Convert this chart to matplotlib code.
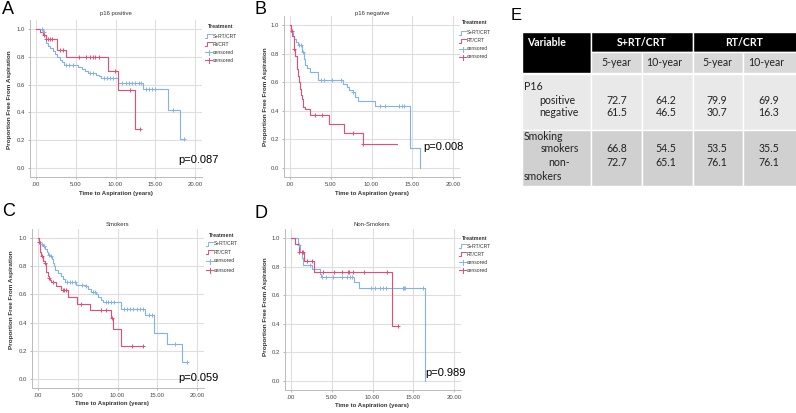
import numpy as np
import matplotlib
matplotlib.use("Agg")
import matplotlib.pyplot as plt
from matplotlib.patches import Rectangle
from matplotlib.lines import Line2D
from matplotlib.transforms import Bbox, TransformedBbox

plt.rcParams['font.family'] = ['Liberation Sans', 'DejaVu Sans']

# ---------------- data ----------------
# A: p16 positive
a_blue_t = [0, 0.9, 1.05, 1.2, 1.3, 1.5, 1.8, 2.1, 2.4, 2.7, 3.0, 3.3, 3.5, 5.3, 5.8, 6.2, 6.5, 7.6, 7.9, 8.2, 10.3, 13.5, 16.6, 18.1]
a_blue_s = [1.0, 0.98, 0.96, 0.93, 0.90, 0.88, 0.86, 0.84, 0.82, 0.80, 0.78, 0.76, 0.74, 0.73, 0.71, 0.70, 0.68, 0.67, 0.66, 0.645, 0.615, 0.565, 0.42, 0.21]
a_blue_end = 18.65
a_blue_cens = [0.7, 1.0, 3.8, 4.2, 4.6, 6.8, 7.2, 8.5, 8.9, 9.3, 9.7, 10.8, 11.3, 11.7, 12.1, 12.5, 12.9, 13.2, 13.8, 14.2, 14.6, 15.0, 17.2, 18.65]
a_red_t = [0, 0.5, 0.9, 1.25, 2.7, 3.8, 9.1, 10.3, 12.4]
a_red_s = [1.0, 0.98, 0.955, 0.93, 0.85, 0.80, 0.70, 0.56, 0.28]
a_red_end = 13.1
a_red_cens = [1.0, 1.3, 1.5, 1.7, 2.0, 3.0, 3.4, 5.4, 6.3, 6.8, 7.2, 7.4, 7.9, 9.9, 11.8, 13.1]

# B: p16 negative
b_blue_t = [0, 0.12, 0.33, 0.55, 0.75, 1.0, 1.45, 1.7, 1.9, 2.1, 2.5, 3.45, 6.5, 7.0, 7.3, 7.7, 8.0, 8.3, 10.4, 14.7, 16.0]
b_blue_s = [1.0, 0.95, 0.92, 0.90, 0.88, 0.86, 0.81, 0.76, 0.72, 0.70, 0.67, 0.615, 0.59, 0.565, 0.545, 0.53, 0.50, 0.467, 0.435, 0.143, 0.0]
b_blue_end = 16.0
b_blue_cens = [1.15, 1.3, 1.6, 3.8, 4.2, 5.2, 6.3, 7.7, 11.0, 11.7, 13.4, 13.7, 14.0]
b_red_t = [0, 0.12, 0.25, 0.45, 0.65, 0.83, 1.04, 1.15, 1.25, 1.33, 1.45, 1.58, 1.87, 2.5, 4.82, 6.65, 8.9]
b_red_s = [1.0, 0.96, 0.92, 0.83, 0.78, 0.69, 0.64, 0.60, 0.55, 0.51, 0.48, 0.43, 0.415, 0.37, 0.305, 0.245, 0.165]
b_red_end = 13.1
b_red_cens = [0.2, 0.5, 3.1, 3.95, 7.7, 9.0]

# C: smokers
c_blue_t = [0, 0.12, 0.3, 0.63, 0.92, 1.1, 1.26, 1.5, 1.7, 1.9, 2.0, 2.2, 2.5, 2.85, 3.15, 3.45, 4.8, 5.9, 6.3, 6.7, 7.35, 7.6, 7.9, 8.2, 10.4, 13.5, 14.6, 16.2, 18.15]
c_blue_s = [1.0, 0.98, 0.96, 0.94, 0.92, 0.90, 0.88, 0.87, 0.85, 0.82, 0.80, 0.77, 0.75, 0.73, 0.71, 0.69, 0.67, 0.66, 0.64, 0.62, 0.60, 0.58, 0.56, 0.545, 0.50, 0.455, 0.325, 0.245, 0.12]
c_blue_end = 18.7
c_blue_cens = [0.45, 0.8, 1.35, 1.6, 3.7, 4.0, 4.3, 4.6, 5.5, 6.0, 6.9, 7.2, 8.5, 8.8, 9.2, 9.6, 10.8, 11.2, 11.6, 12.0, 12.4, 12.8, 13.2, 13.9, 14.3, 17.2, 18.7]
c_red_t = [0, 0.1, 0.2, 0.3, 0.42, 0.6, 0.84, 0.95, 1.05, 1.2, 1.35, 1.45, 1.6, 2.3, 2.85, 3.8, 4.85, 6.6, 9.15, 9.45, 10.5]
c_red_s = [1.0, 0.97, 0.93, 0.90, 0.87, 0.84, 0.82, 0.79, 0.76, 0.73, 0.715, 0.70, 0.69, 0.66, 0.63, 0.58, 0.535, 0.488, 0.43, 0.354, 0.236]
c_red_end = 13.2
c_red_cens = [0.15, 0.5, 0.9, 1.4, 1.9, 3.1, 3.3, 3.5, 5.4, 7.9, 8.6, 9.3, 11.8, 13.2]

# D: non-smokers
d_blue_t = [0, 0.85, 1.05, 1.3, 1.45, 2.6, 3.5, 3.7, 7.7, 8.3, 16.4]
d_blue_s = [1.0, 0.95, 0.905, 0.86, 0.81, 0.78, 0.75, 0.728, 0.69, 0.653, 0.0]
d_blue_end = 16.4
d_blue_cens = [1.0, 2.3, 3.8, 4.3, 5.2, 6.2, 6.9, 7.2, 7.5, 9.8, 10.3, 10.9, 11.3, 11.6, 13.7, 13.9, 14.0, 16.2]
d_red_t = [0, 0.5, 1.0, 1.6, 2.8, 12.4]
d_red_s = [1.0, 0.955, 0.905, 0.84, 0.763, 0.384]
d_red_end = 13.1
d_red_cens = [1.0, 1.3, 1.5, 2.0, 2.6, 3.9, 5.3, 6.3, 7.0, 7.15, 7.6, 8.9, 11.75, 13.1]

titles = ['p16 positive', 'p16 negative', 'Smokers', 'Non-Smokers']
letters = ['A', 'B', 'C', 'D']
pvalues = ['p=0.087', 'p=0.008', 'p=0.059', 'p=0.989']
legend_a = ['S+RT/CRT', 'Rt/CRT', 'censored', 'censored']
legend_other = ['S+RT/CRT', 'RT/CRT', 'censored', 'censored']
xticks = [0, 5, 10, 15, 20]
xtick_labels = ['.00', '5.00', '10.00', '15.00', '20.00']
yticks = [0.0, 0.2, 0.4, 0.6, 0.8, 1.0]

# table E
tab_groups = ['S+RT/CRT', 'RT/CRT']
tab_sub = ['5-year', '10-year', '5-year', '10-year']
p16_pos = ['72.7', '64.2', '79.9', '69.9']
p16_neg = ['61.5', '46.5', '30.7', '16.3']
smk_yes = ['66.8', '54.5', '53.5', '35.5']
smk_no = ['72.7', '65.1', '76.1', '76.1']

# ---------------- figure ----------------
W, H = 796, 413
fig = plt.figure(figsize=(W / 100, H / 100), dpi=100)
XL = (-0.75, 20.9)
YL = (-0.065, 1.065)
BLUE = '#82b2ee'
RED = '#ec4a72'


def fx(x):
    return x / W


def fy(y):
    return 1 - y / H


def make_axes(x0, x20, y1, y0):
    sx = (x20 - x0) / 20.0
    sy = y0 - y1
    left = x0 + XL[0] * sx
    right = x0 + XL[1] * sx
    top = y0 - YL[1] * sy
    bottom = y0 - YL[0] * sy
    return fig.add_axes([fx(left), fy(bottom), (right - left) / W, (bottom - top) / H])


def km(ax, t, s, end, cens, color):
    tt = list(t) + [end]
    ss = list(s) + [s[-1]]
    ax.step(tt, ss, where='post', color=color, lw=0.8, zorder=3)
    idx = np.searchsorted(np.array(t), np.array(cens), side='right') - 1
    cy = np.array(s)[idx]
    ax.plot(cens, cy, ls='none', marker='+', ms=3.2, mew=0.7, color=color, zorder=4)


def legend(lx, ty, ys, labels, clip=None):
    texts = []
    texts.append(fig.text(fx(lx + 3), fy(ty), 'Treatment', fontsize=3.8, fontweight='bold',
                          color='#333333', va='center', ha='left'))
    cols = [BLUE, RED, BLUE, RED]
    for i, (yy, lab) in enumerate(zip(ys, labels)):
        c = cols[i]
        if i < 2:
            xs = [lx, lx + 2, lx + 2, lx + 7]
            yv = [yy + 2, yy + 2, yy - 2, yy - 2]
            fig.add_artist(Line2D([fx(v) for v in xs], [fy(v) for v in yv], color=c, lw=0.7))
        else:
            fig.add_artist(Line2D([fx(lx), fx(lx + 7)], [fy(yy), fy(yy)], color=c, lw=0.7))
            fig.add_artist(Line2D([fx(lx + 3.5), fx(lx + 3.5)], [fy(yy - 2.5), fy(yy + 2.5)], color=c, lw=0.7))
        texts.append(fig.text(fx(lx + 8), fy(yy), lab, fontsize=3.6, color='#333333',
                              va='center', ha='left'))
    if clip is not None:
        bb = TransformedBbox(Bbox([[0, 0], [fx(clip), 1]]), fig.transFigure)
        for tx in texts:
            tx.set_clip_box(bb)
            tx.set_clip_on(True)


panels = [
    dict(m=(36, 195, 29, 168), blue=(a_blue_t, a_blue_s, a_blue_end, a_blue_cens),
         red=(a_red_t, a_red_s, a_red_end, a_red_cens), title_xy=(116, 14), xl_xy=(116, 193),
         yl_xy=(10, 100), let_xy=(2, 10), p_xy=(178, 160),
         leg=(205, 27, [36, 44, 52, 60], legend_a, None)),
    dict(m=(290, 453, 25, 168), blue=(b_blue_t, b_blue_s, b_blue_end, b_blue_cens),
         red=(b_red_t, b_red_s, b_red_end, b_red_cens), title_xy=(372, 13), xl_xy=(372, 194),
         yl_xy=(265, 97), let_xy=(254, 10), p_xy=(423, 147),
         leg=(459, 23, [33, 41, 49, 57], legend_other, 494)),
    dict(m=(38, 197, 238, 379), blue=(c_blue_t, c_blue_s, c_blue_end, c_blue_cens),
         red=(c_red_t, c_red_s, c_red_end, c_red_cens), title_xy=(117, 224), xl_xy=(112, 404),
         yl_xy=(12, 300), let_xy=(2, 212), p_xy=(178, 378),
         leg=(206, 235, [244, 252, 261, 270], legend_other, None)),
    dict(m=(291, 454, 238, 381), blue=(d_blue_t, d_blue_s, d_blue_end, d_blue_cens),
         red=(d_red_t, d_red_s, d_red_end, d_red_cens), title_xy=(372, 225), xl_xy=(372, 406),
         yl_xy=(265, 307), let_xy=(255, 214), p_xy=(425, 373),
         leg=(459, 238, [246, 254, 262, 270], legend_other, 494)),
]

for i, p in enumerate(panels):
    ax = make_axes(*p['m'])
    ax.set_xlim(*XL)
    ax.set_ylim(*YL)
    for gx in xticks:
        ax.axvline(gx, color='#dedede', lw=0.8, zorder=1)
    for gy in yticks:
        ax.axhline(gy, color='#dedede', lw=0.8, zorder=1)
    km(ax, *p['blue'], BLUE)
    km(ax, *p['red'], RED)
    ax.set_xticks(xticks)
    ax.set_xticklabels(xtick_labels)
    ax.set_yticks(yticks)
    ax.set_yticklabels(['%.1f' % v for v in yticks])
    ax.tick_params(labelsize=4.3, length=1.5, width=0.5, colors='#999999', labelcolor='#444444', pad=2)
    for sp in ['top', 'right']:
        ax.spines[sp].set_visible(False)
    for sp in ['left', 'bottom']:
        ax.spines[sp].set_color('#bbbbbb')
        ax.spines[sp].set_linewidth(0.7)
    ax.patch.set_alpha(0)

    fig.text(fx(p['title_xy'][0]), fy(p['title_xy'][1]), titles[i], fontsize=4.3,
             color='#333333', ha='center', va='center')
    fig.text(fx(p['xl_xy'][0]), fy(p['xl_xy'][1]), 'Time to Aspiration (years)', fontsize=4.3,
             fontweight='bold', color='#333333', ha='center', va='center')
    fig.text(fx(p['yl_xy'][0]), fy(p['yl_xy'][1]), 'Proportion Free From Aspiration', fontsize=4.6,
             fontweight='bold', color='#333333', ha='center', va='center', rotation=90)
    fig.text(fx(p['let_xy'][0]), fy(p['let_xy'][1]), letters[i], fontsize=13, color='black',
             ha='left', va='center')
    fig.text(fx(p['p_xy'][0]), fy(p['p_xy'][1]), pvalues[i], fontsize=8, color='black',
             ha='left', va='center')
    legend(*p['leg'])

# ---------------- table E ----------------
fig.text(fx(511), fy(16), 'E', fontsize=12, color='black', ha='left', va='center')


def rect(x0, y0, x1, y1, color):
    fig.add_artist(Rectangle((fx(x0), fy(y1)), (x1 - x0) / W, (y1 - y0) / H,
                             facecolor=color, edgecolor='white', lw=1.0,
                             transform=fig.transFigure))


cx = [522, 591, 642, 693, 743, 797]
rect(cx[0], 32, cx[1], 73, 'black')
rect(cx[1], 32, cx[3], 52, 'black')
rect(cx[3], 32, cx[5], 52, 'black')
for j in range(4):
    rect(cx[j + 1], 52, cx[j + 2], 73, '#d9d9d9')
for j in range(5):
    rect(cx[j], 74, cx[j + 1], 130, '#e9e9e9')
    rect(cx[j], 130, cx[j + 1], 186, '#d0d0d0')

tf = ['Lato', 'DejaVu Sans']
ts = 7.6
fig.text(fx(527), fy(42), 'Variable', family=tf, fontsize=ts, fontweight='bold', color='white', ha='left', va='center')
fig.text(fx(642), fy(42), tab_groups[0], family=tf, fontsize=ts, fontweight='bold', color='white', ha='center', va='center')
fig.text(fx(744), fy(42), tab_groups[1], family=tf, fontsize=ts, fontweight='bold', color='white', ha='center', va='center')
sub_c = [616, 664, 717, 766]
val_c = [617, 666, 717, 769]
for j in range(4):
    fig.text(fx(sub_c[j]), fy(63), tab_sub[j], family=tf, fontsize=ts, color='#222222', ha='center', va='center')
    fig.text(fx(val_c[j]), fy(100), p16_pos[j], family=tf, fontsize=ts, color='#222222', ha='center', va='center')
    fig.text(fx(val_c[j]), fy(113), p16_neg[j], family=tf, fontsize=ts, color='#222222', ha='center', va='center')
    fig.text(fx(val_c[j]), fy(149), smk_yes[j], family=tf, fontsize=ts, color='#222222', ha='center', va='center')
    fig.text(fx(val_c[j]), fy(163), smk_no[j], family=tf, fontsize=ts, color='#222222', ha='center', va='center')

row_lab = [('P16', 524, 86), ('positive', 539, 100), ('negative', 539, 113),
           ('Smoking', 524, 136), ('smokers', 541, 149), ('non-', 548, 163), ('smokers', 524, 177)]
for lab, x, y in row_lab:
    fig.text(fx(x), fy(y), lab, family=tf, fontsize=ts, color='#222222', ha='left', va='center')

fig.savefig('out.png', dpi=100)
